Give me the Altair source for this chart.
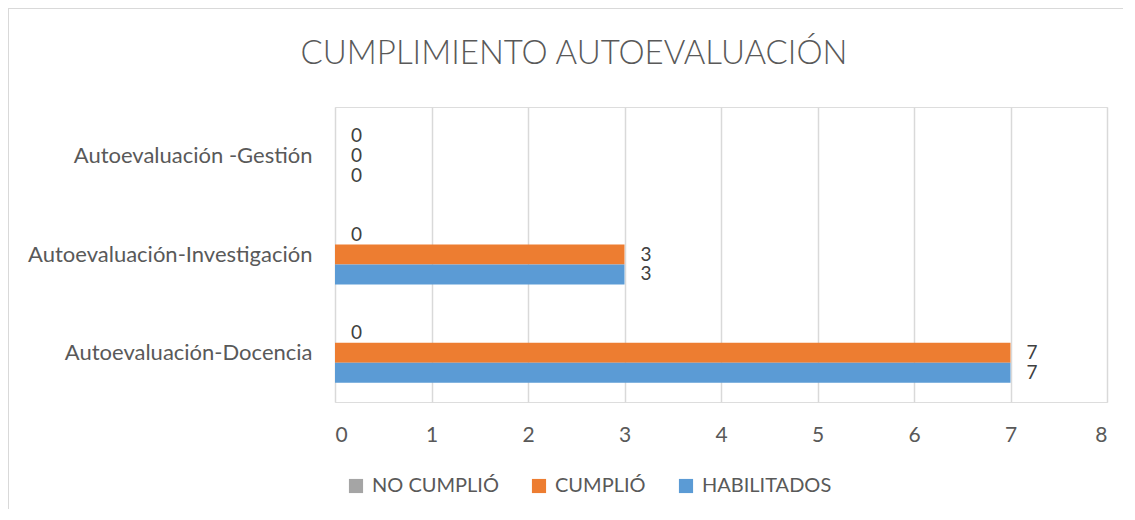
import altair as alt
import pandas as pd

categories = ["Autoevaluación -Gestión", "Autoevaluación-Investigación", "Autoevaluación-Docencia"]
series = ["NO CUMPLIÓ", "CUMPLIÓ", "HABILITADOS"]
no_cumplio = [0, 0, 0]
cumplio = [0, 3, 7]
habilitados = [0, 3, 7]
colors = ["#A5A5A5", "#ED7D31", "#5B9BD5"]
x_ticks = [0, 1, 2, 3, 4, 5, 6, 7, 8]
title_text = ["CUMPLIMIENTO AUTOEVALUACIÓN"]

rows = []
for s, vals in zip(series, [no_cumplio, cumplio, habilitados]):
    for c, v in zip(categories, vals):
        rows.append({"categoria": c, "serie": s, "valor": v})
df = pd.DataFrame(rows)

FONT = "Lato"

y_enc = alt.Y("categoria:N", sort=categories, title=None,
              scale=alt.Scale(paddingInner=0.39, paddingOuter=0.195),
              axis=alt.Axis(domain=False, ticks=False, labelPadding=23,
                            labelFontSize=22, labelColor="#595959", labelFont=FONT,
                            labelLimit=400, minExtent=310, maxExtent=310))
yoff = alt.YOffset("serie:N", sort=series, scale=alt.Scale(paddingInner=0, paddingOuter=0))
x_enc = alt.X("valor:Q", title=None,
              scale=alt.Scale(domain=[0, 8], nice=False),
              axis=alt.Axis(values=x_ticks, domain=False, ticks=False, grid=True,
                            gridColor="#D9D9D9", gridWidth=1.5, labelPadding=22,
                            labelFontSize=21, labelColor="#595959", labelFont=FONT,
                            format="d"))

bars = alt.Chart(df).mark_bar().encode(
    y=y_enc, yOffset=yoff, x=x_enc,
    color=alt.Color("serie:N", sort=series,
                    scale=alt.Scale(domain=series, range=colors),
                    legend=alt.Legend(title=None, orient="none", legendX=11, legendY=369,
                                      direction="horizontal", columns=3, symbolType="square",
                                      symbolSize=200, symbolStrokeWidth=0, columnPadding=30,
                                      labelFontSize=20, labelColor="#595959", labelFont=FONT,
                                      labelOffset=6)),
)

labels = alt.Chart(df).mark_text(align="left", baseline="middle", dx=16,
                                 fontSize=19, color="#404040", font=FONT).encode(
    y=alt.Y("categoria:N", sort=categories), yOffset=yoff,
    x=alt.X("valor:Q"), text=alt.Text("valor:Q", format="d"),
)

title = alt.Chart(pd.DataFrame({"t": title_text})).mark_text(
    align="center", baseline="alphabetic", fontSize=33, font=FONT, fontWeight=300,
    color="#595959").encode(text="t:N", x=alt.value(239), y=alt.value(-43))

# chart-area frame (left and top edges, as in the reference)
frame_top = alt.Chart(df).mark_rule(color="#D9D9D9", strokeWidth=2).encode(
    x=alt.value(-328), x2=alt.value(788), y=alt.value(-99))
frame_left = alt.Chart(df).mark_rule(color="#D9D9D9", strokeWidth=2).encode(
    x=alt.value(-327), y=alt.value(-100), y2=alt.value(402))

chart = (frame_top + frame_left + bars + labels + title).properties(
    width=772, height=295,
    padding={"left": -2, "top": -2, "right": 0, "bottom": 0},
).configure_view(strokeWidth=0).configure(background="white")

chart.save("out.html", embed_options={"renderer": "svg", "actions": False})
